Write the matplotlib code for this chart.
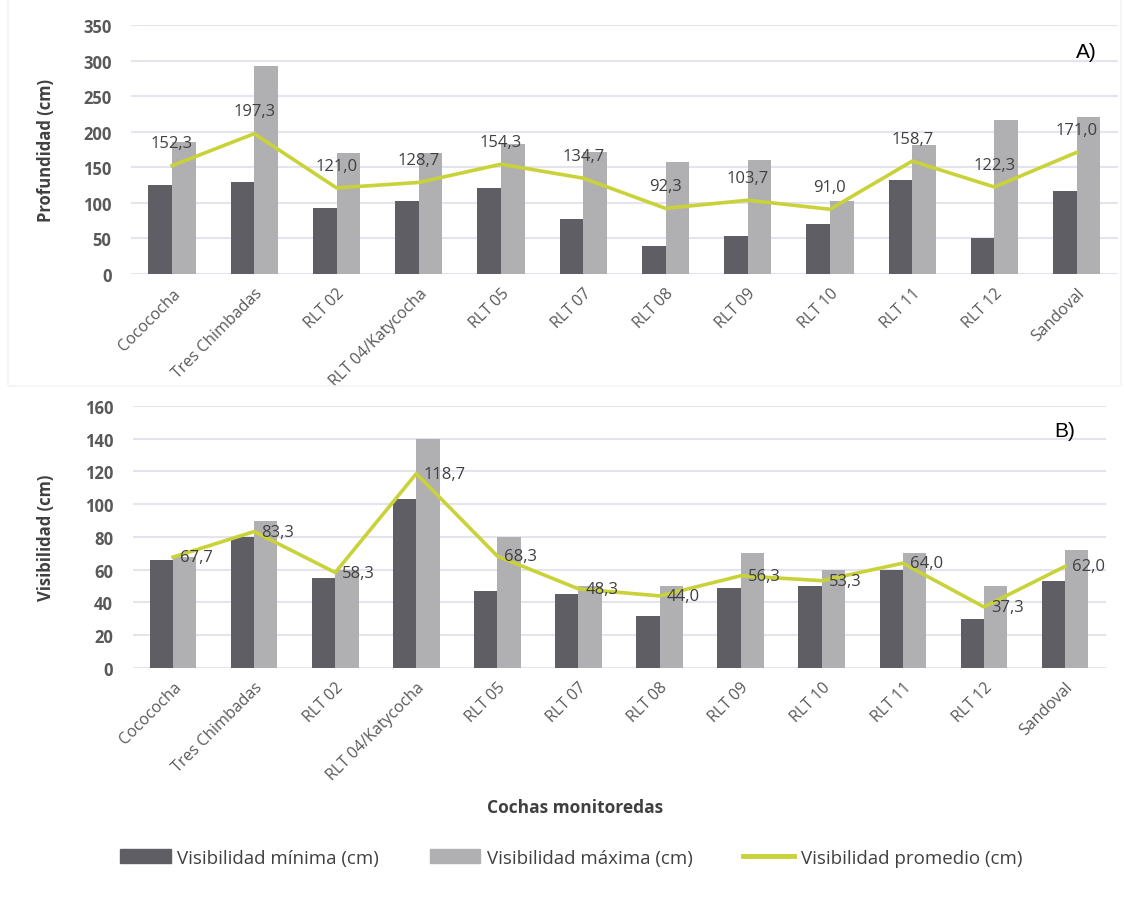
import matplotlib.pyplot as plt
import matplotlib.patches as mpatches
import matplotlib.lines as mlines
import numpy as np

plt.rcParams['font.family'] = ['Open Sans', 'DejaVu Sans']

cochas = ['Cocococha', 'Tres Chimbadas', 'RLT 02', 'RLT 04/Katycocha', 'RLT 05',
          'RLT 07', 'RLT 08', 'RLT 09', 'RLT 10', 'RLT 11', 'RLT 12', 'Sandoval']

# A) depth (cm)
prof_min = [125, 130, 93, 103, 121, 78, 40, 53, 70, 132, 50, 117]
prof_max = [185, 292, 170, 170, 183, 172, 157, 160, 103, 182, 217, 221]
prof_prom = [152.3, 197.3, 121.0, 128.7, 154.3, 134.7, 92.3, 103.7, 91.0, 158.7, 122.3, 171.0]

# B) visibility (cm)
vis_min = [66, 80, 55, 103, 47, 45, 32, 49, 50, 60, 30, 53]
vis_max = [68, 90, 60, 140, 80, 50, 50, 70, 60, 70, 50, 72]
vis_prom = [67.7, 83.3, 58.3, 118.7, 68.3, 48.3, 44.0, 56.3, 53.3, 64.0, 37.3, 62.0]

C_MIN = '#5f5e64'
C_MAX = '#b0b0b3'
C_LINE = '#cad23a'
C_TEXT = '#404040'
C_TICK = '#595959'
C_GRID = '#e3e4ee'


def fmt(v):
    return f'{v:.1f}'.replace('.', ',')


def draw_panel(ax, vmin, vmax, vprom, ylim, step, ylabel, label_x, tag, label_pos):
    x = np.arange(len(cochas))
    w = 0.287
    ax.bar(x - w / 2, vmin, w, color=C_MIN, zorder=2)
    ax.bar(x + w / 2, vmax, w, color=C_MAX, zorder=2)
    ax.plot(x, vprom, color=C_LINE, lw=2.6, zorder=3)
    for xi, v in zip(x, vprom):
        if label_pos == 'above':
            ax.annotate(fmt(v), (xi, v), xytext=(0, 16), textcoords='offset points',
                        ha='center', va='center', fontsize=12, color=C_TEXT, zorder=4)
        else:
            ax.annotate(fmt(v), (xi, v), xytext=(5, 0), textcoords='offset points',
                        ha='left', va='center', fontsize=12, color=C_TEXT, zorder=4)
    ax.set_xlim(-0.5, len(cochas) - 0.5)
    ax.set_ylim(0, ylim)
    ax.set_yticks(np.arange(0, ylim + 1, step))
    ax.grid(axis='y', color=C_GRID, lw=1.5, zorder=0)
    ax.set_axisbelow(True)
    for s in ax.spines.values():
        s.set_visible(False)
    ax.tick_params(axis='y', length=0, labelsize=12, labelcolor=C_TICK, pad=14)
    for t in ax.get_yticklabels():
        t.set_fontweight('bold')
    ax.set_xticks(x)
    ax.set_xticklabels(cochas, rotation=45, ha='right', rotation_mode='anchor',
                       fontsize=11.5, color=C_TICK)
    ax.tick_params(axis='x', length=0, pad=8)
    ax.set_ylabel(ylabel, fontsize=12, fontweight='bold', color=C_TEXT)
    ax.yaxis.set_label_coords(label_x, 0.5)
    ax.text(tag[0], tag[1], tag[2], transform=ax.transAxes, fontsize=15,
            family=['Liberation Sans', 'DejaVu Sans'], ha='left', va='center')


fig = plt.figure(figsize=(11.24, 9.04), dpi=100)

# faint frame round the upper panel
fig.patches.append(mpatches.Rectangle((0.007, 0.572), 0.99, 0.43, transform=fig.transFigure,
                                      fill=False, edgecolor='#f3f3f3', lw=1.2))

ax_a = fig.add_axes([0.1165, 0.6958, 0.878, 0.2754])
draw_panel(ax_a, prof_min, prof_max, prof_prom, 350, 50, 'Profundidad (cm)', -0.077,
           (0.958, 0.892, 'A)'), 'above')

ax_b = fig.add_axes([0.1179, 0.260, 0.8657, 0.2898])
draw_panel(ax_b, vis_min, vis_max, vis_prom, 160, 20, 'Visibilidad (cm)', -0.08,
           (0.947, 0.905, 'B)'), 'right')

fig.text(0.512, 0.106, 'Cochas monitoredas', ha='center', va='center',
         fontsize=12.5, fontweight='bold', color=C_TEXT)

handles = [
    mpatches.Patch(color=C_MIN, label='Visibilidad mínima (cm)'),
    mpatches.Patch(color=C_MAX, label='Visibilidad máxima (cm)'),
    mlines.Line2D([], [], color=C_LINE, lw=3.5, label='Visibilidad promedio (cm)'),
]
fig.legend(handles=handles, loc='center', bbox_to_anchor=(0.508, 0.050), ncol=3,
           frameon=False, fontsize=13.5, labelcolor=C_TEXT, columnspacing=2.7,
           handlelength=2.7, handleheight=0.75, handletextpad=0.35)

fig.savefig('out.png', dpi=100, facecolor='white')
